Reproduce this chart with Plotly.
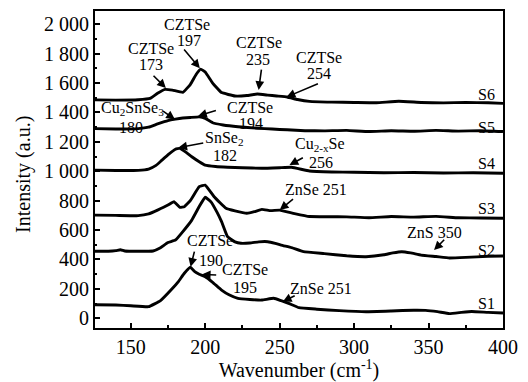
import plotly.graph_objects as go

# ---------------- data ----------------
s1_x = [125, 140, 150, 162, 170, 177, 182, 186, 190, 193, 196, 200, 205, 211, 216, 222, 230, 238, 246, 251, 256, 263, 275, 290, 308, 325, 340, 348, 356, 364, 372, 379, 390, 400]
s1_y = [92, 90, 85, 79, 120, 192, 250, 306, 347, 317, 300, 283, 245, 192, 160, 136, 128, 124, 136, 120, 102, 72, 62, 52, 45, 50, 55, 54, 45, 32, 40, 46, 40, 36]

s2_x = [125, 135, 140, 143, 146, 155, 165, 170, 175, 180, 185, 191, 196, 200, 204, 208, 211, 215, 220, 224, 230, 236, 242, 247, 251, 258, 266, 280, 295, 308, 320, 326, 332, 338, 345, 355, 364, 375, 390, 400]
s2_y = [456, 456, 460, 466, 458, 456, 458, 480, 515, 532, 590, 668, 760, 823, 790, 720, 657, 555, 520, 510, 512, 520, 521, 510, 498, 480, 453, 440, 425, 419, 432, 445, 453, 445, 430, 420, 410, 414, 422, 424]

s3_x = [125, 140, 155, 162, 168, 175, 179, 183, 186, 190, 196, 200, 206, 214, 220, 228, 233, 238, 244, 250, 260, 270, 283, 295, 310, 325, 340, 355, 370, 385, 400]
s3_y = [702, 700, 698, 710, 736, 770, 793, 755, 759, 800, 895, 906, 827, 748, 730, 714, 725, 741, 732, 736, 712, 692, 691, 690, 684, 692, 688, 693, 684, 682, 680]

s4_x = [125, 140, 155, 162, 167, 171, 176, 180, 183, 187, 191, 196, 200, 207, 215, 225, 238, 250, 258, 270, 285, 300, 320, 340, 360, 380, 400]
s4_y = [1008, 1005, 1006, 1015, 1040, 1076, 1120, 1150, 1156, 1130, 1099, 1065, 1042, 1032, 1027, 1024, 1020, 1024, 1027, 1002, 995, 993, 990, 992, 988, 990, 986]

s5_x = [125, 140, 155, 162, 168, 175, 180, 185, 190, 196, 200, 205, 212, 222, 235, 245, 255, 267, 280, 295, 310, 325, 340, 355, 370, 385, 400]
s5_y = [1290, 1287, 1290, 1300, 1322, 1345, 1355, 1362, 1366, 1370, 1360, 1330, 1315, 1303, 1293, 1287, 1282, 1276, 1275, 1278, 1270, 1276, 1272, 1278, 1273, 1276, 1270]

s6_x = [125, 140, 155, 163, 168, 173, 178, 185, 190, 194, 197, 200, 205, 211, 220, 228, 235, 242, 248, 255, 262, 270, 285, 300, 315, 330, 345, 360, 375, 390, 400]
s6_y = [1486, 1484, 1486, 1495, 1530, 1557, 1552, 1537, 1590, 1660, 1695, 1675, 1600, 1535, 1512, 1515, 1525, 1518, 1512, 1505, 1488, 1475, 1470, 1468, 1466, 1476, 1468, 1465, 1468, 1466, 1462]

series_names = ["S1", "S2", "S3", "S4", "S5", "S6"]
series_x = [s1_x, s2_x, s3_x, s4_x, s5_x, s6_x]
series_y = [s1_y, s2_y, s3_y, s4_y, s5_y, s6_y]

x_tick_vals = [150, 200, 250, 300, 350, 400]
x_tick_text = ["150", "200", "250", "300", "350", "400"]
y_tick_vals = [0, 200, 400, 600, 800, 1000, 1200, 1400, 1600, 1800, 2000]
y_tick_text = ["0", "200", "400", "600", "800", "1 000", "1 200", "1 400", "1 600", "1 800", "2 000"]

x_title = "Wavenumber (cm<sup>-1</sup>)"
y_title = "Intensity (a.u.)"

# series label positions (right side)
label_pos = [(396, 104), (396, 464), (396, 750), (396, 1056), (396, 1301), (396, 1524)]

# arrows: (tip_x, tip_y, tail_x, tail_y)
arrows = [
    (173.6, 1566, 164.3, 1660),
    (196.4, 1700, 185.0, 1838),
    (235.9, 1553, 237.9, 1702),
    (254.6, 1505, 276.7, 1600),
    (179.7, 1352, 170.7, 1416),
    (195.2, 1376, 208.2, 1416),
    (181.9, 1160, 199.7, 1194),
    (256.6, 1042, 266.6, 1097),
    (250.0, 737, 260.0, 818),
    (353.7, 464, 361.5, 544),
    (190.2, 350, 193.0, 464),
    (197.7, 298, 208.4, 294),
    (252.1, 113, 261.1, 158),
]

# text lines: (text, x, y)
texts = [
    ("CZTSe", 163.6, 1833), ("173", 163.6, 1727),
    ("CZTSe", 188.0, 2001), ("197", 188.8, 1886),
    ("CZTSe", 236.0, 1877), ("235", 235.5, 1763),
    ("CZTSe", 276.7, 1775), ("254", 276.7, 1665),
    ("Cu<sub>2</sub>SnSe<sub>3</sub>", 151.0, 1428), ("180", 150.5, 1300),
    ("CZTSe", 229.8, 1432), ("194", 230.5, 1325),
    ("SnSe<sub>2</sub>", 213.0, 1220), ("182", 213.0, 1110),
    ("Cu<sub>2-x</sub>Se", 276.9, 1185), ("256", 278.0, 1058),
    ("ZnSe 251", 274.7, 873),
    ("ZnS 350", 353.7, 583),
    ("CZTSe", 203.4, 526), ("190", 203.7, 396),
    ("CZTSe", 226.5, 330), ("195", 227.0, 207),
    ("ZnSe 251", 277.5, 206),
]

FONT = "Times New Roman, Liberation Serif, serif"

fig = go.Figure()
for name, xs, ys in zip(series_names, series_x, series_y):
    fig.add_trace(go.Scatter(x=xs, y=ys, mode="lines", name=name,
                             line=dict(color="black", width=2.9, shape="spline", smoothing=0.3),
                             showlegend=False))

annotations = []
for (tx, ty, ax, ay) in arrows:
    annotations.append(dict(x=tx, y=ty, ax=ax, ay=ay, xref="x", yref="y", axref="x", ayref="y",
                            text="", showarrow=True, arrowhead=2, arrowsize=1.1, arrowwidth=1.6,
                            arrowcolor="black", standoff=0, startstandoff=0))
for (t, x, y) in texts:
    annotations.append(dict(x=x, y=y, xref="x", yref="y", text=t, showarrow=False,
                            xanchor="center", yanchor="middle", borderpad=0,
                            font=dict(family=FONT, size=16, color="black")))
for name, (x, y) in zip(series_names, label_pos):
    annotations.append(dict(x=x, y=y, xref="x", yref="y", text=name, showarrow=False,
                            xanchor="right", yanchor="middle",
                            font=dict(family=FONT, size=16, color="black")))
# y-axis title placed as rotated text, centred where the reference puts it
annotations.append(dict(x=-0.174, y=0.483, xref="paper", yref="paper", text=y_title,
                        showarrow=False, textangle=-90, xanchor="center", yanchor="middle",
                        font=dict(family=FONT, size=20, color="black")))

fig.update_layout(
    width=528, height=382,
    margin=dict(l=95, r=25, t=11, b=54),
    paper_bgcolor="white", plot_bgcolor="white",
    font=dict(family=FONT, color="black"),
    annotations=annotations,
)
fig.update_xaxes(
    range=[126, 400], showgrid=False, zeroline=False,
    showline=True, linecolor="black", linewidth=2, mirror=True,
    ticks="inside", ticklen=5, tickwidth=2, tickcolor="black",
    tickvals=x_tick_vals, ticktext=x_tick_text,
    tickfont=dict(family=FONT, size=20, color="black"),
    minor=dict(ticks="inside", ticklen=3, tickwidth=2, tickcolor="black", dtick=25, tick0=0),
    title=dict(text=x_title, font=dict(family=FONT, size=20, color="black"), standoff=6),
    automargin=False,
)
fig.update_yaxes(
    range=[-66, 2090], showgrid=False, zeroline=False,
    showline=True, linecolor="black", linewidth=2, mirror=True,
    ticks="inside", ticklen=5, tickwidth=2, tickcolor="black",
    tickvals=y_tick_vals, ticktext=y_tick_text,
    tickfont=dict(family=FONT, size=20, color="black"),
    minor=dict(ticks="inside", ticklen=2, tickwidth=2, tickcolor="black", dtick=100, tick0=0),
    automargin=False,
)

fig.write_html("out.html")
